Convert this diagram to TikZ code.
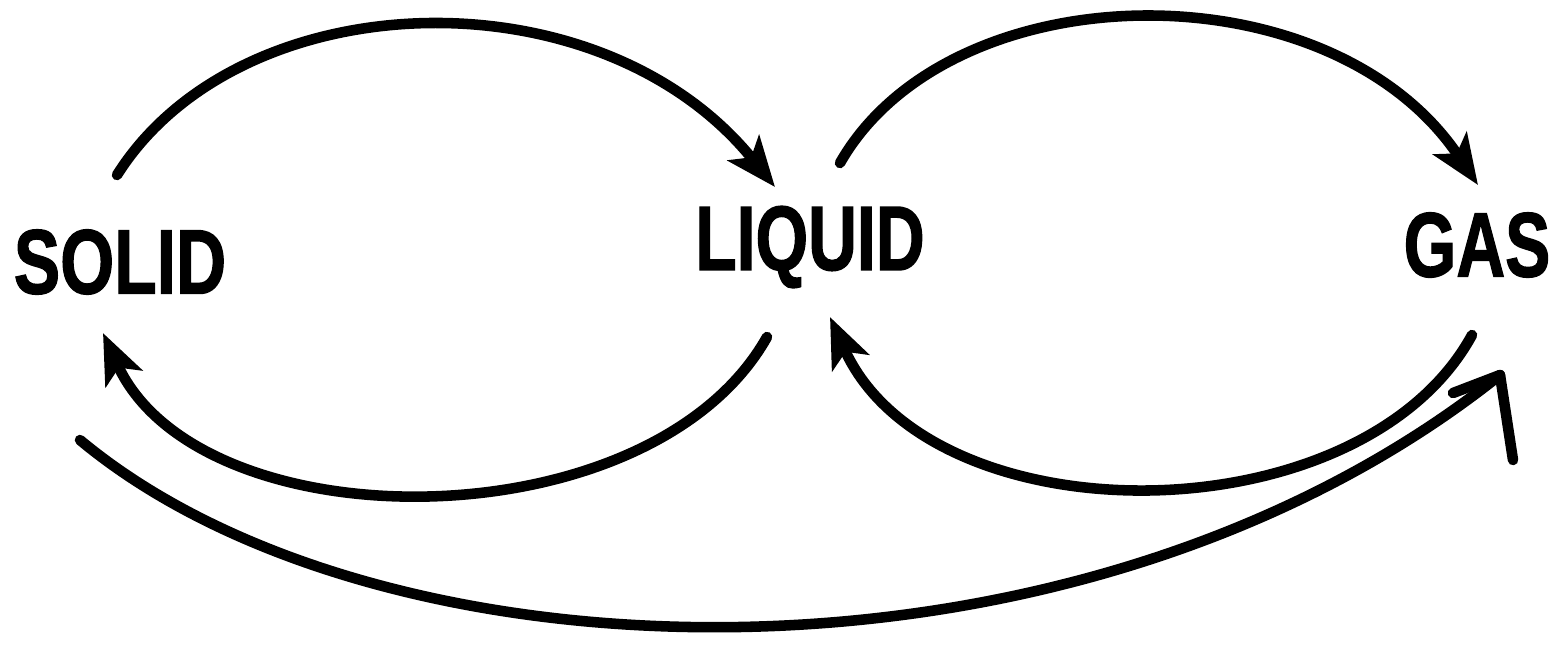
\documentclass[tikz,border=0pt]{standalone}
\usepackage{fontspec}
\setmainfont{Liberation Sans}
\newfontfamily\heavyfont{Liberation Sans Bold}[FakeBold=1.6]
\usepackage{graphicx}
\usetikzlibrary{arrows.meta,calc}

\begin{document}
\begin{tikzpicture}[
  x=0.01cm, y=-0.01cm,
  state/.style={inner sep=0pt, font=\fontsize{26pt}{30pt}\selectfont\heavyfont},
  arr/.style={line width=3pt, line cap=round, -{Stealth[length=5mm, width=4mm, inset=1.2mm]}},
  barb/.style={line width=3pt, line cap=round}
]
\useasboundingbox (0,0) rectangle (1560,647);
% the three phases
\node[state] (solid) at (120,262) {\scalebox{0.76}[1]{SOLID}};
\node[state] (liquid) at (810,247) {\scalebox{0.74}[1]{LIQUID}};
\node[state] (gas) at (1477,245) {\scalebox{0.74}[1]{GAS}};
% end points round the labels
\coordinate (s1) at ($(solid)+(-3,-87)$);
\coordinate (s2) at ($(solid)+(-17,71)$);
\coordinate (s3) at ($(solid)+(-40,178)$);
\coordinate (l1) at ($(liquid)+(-35,-60)$);
\coordinate (l2) at ($(liquid)+(30,-84)$);
\coordinate (l3) at ($(liquid)+(-43,90)$);
\coordinate (l4) at ($(liquid)+(20,70)$);
\coordinate (g1) at ($(gas)+(1,-60)$);
\coordinate (g2) at ($(gas)+(-5,90)$);
\coordinate (tip) at ($(gas)+(23,130)$);
% top arcs
\draw[arr] (s1) .. controls (240,-20) and (600,-30) .. (l1);
\draw[arr] (l2) .. controls (950,-30) and (1330,-35) .. (g1);
% bottom arcs
\draw[arr] (l3) .. controls (650,545) and (200,545) .. (s2);
\draw[arr] (g2) .. controls (1360,540) and (930,540) .. (l4);
% long arc solid to gas
\draw[barb] (s3) .. controls (380,690) and (1080,710) .. (tip);
\draw[barb] (tip) -- ++(-47,18);
\draw[barb] (tip) -- ++(13,85);
\end{tikzpicture}
\end{document}
